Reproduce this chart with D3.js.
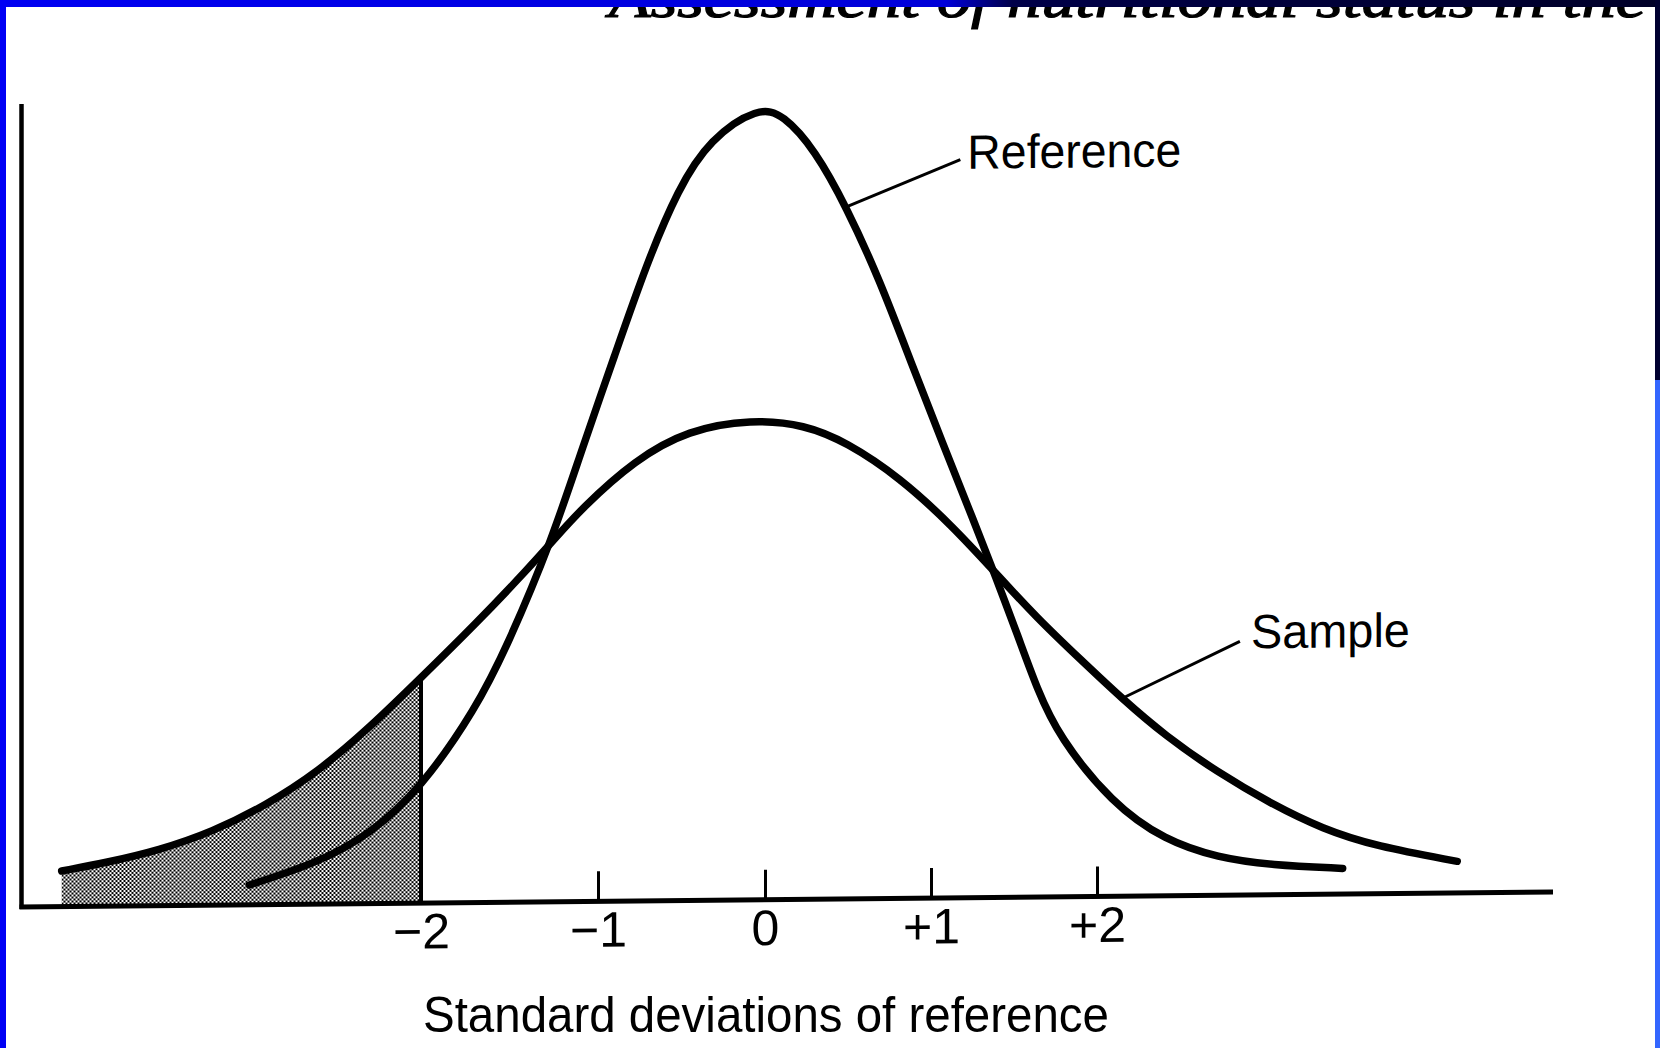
<!DOCTYPE html>
<html>
<head>
<meta charset="utf-8">
<script src="https://cdn.jsdelivr.net/npm/d3@7"></script>
<style>
body { margin: 0; background: #fff; }
svg { display: block; }
text { font-family: "Liberation Sans", Arial, Helvetica, sans-serif; fill: #000; }
</style>
</head>
<body>
<svg width="1660" height="1048"></svg>
<script>
// ticks, in standard deviations of the reference
var tickValues = [-2, -1, 0, 1, 2];
var tickLabels = ["\u22122", "\u22121", "0", "+1", "+2"];

// reference curve (x: SD of reference, y: relative frequency)
var refX = [-2.97, -2.58, -2.29, -2.0, -1.69, -1.51, -1.26, -1.09, -0.90, -0.71, -0.52, -0.33, -0.04, 0.11, 0.30, 0.49,
	0.69, 0.88, 1.07, 1.26, 1.39, 1.52, 1.64, 1.77, 2.09, 2.41, 2.73, 3.05, 3.48];
var refY = [0.010, 0.021, 0.035, 0.058, 0.098, 0.130, 0.183, 0.229, 0.276, 0.322, 0.360, 0.385, 0.401, 0.397, 0.379, 0.350,
	0.313, 0.271, 0.230, 0.190, 0.162, 0.133, 0.105, 0.081, 0.047, 0.028, 0.019, 0.015, 0.013];

// sample curve
var sampleX = [-4.03, -3.78, -3.48, -3.18, -2.88, -2.58, -2.29, -2.0, -1.69, -1.39, -1.26, -1.09, -0.78, -0.46, -0.08, 0.24,
	0.49, 0.81, 1.13, 1.39, 1.64, 1.90, 2.15, 2.41, 2.73, 3.05, 3.36, 3.68, 4.17];
var sampleY = [0.018, 0.022, 0.028, 0.037, 0.050, 0.067, 0.089, 0.114, 0.141, 0.169, 0.182, 0.199, 0.223, 0.238, 0.243, 0.240,
	0.231, 0.213, 0.188, 0.164, 0.141, 0.120, 0.100, 0.081, 0.062, 0.046, 0.033, 0.024, 0.016];

var cutoff = -2;
var seriesNames = ["Reference", "Sample"];
var xTitle = "Standard deviations of reference";
var pageTitle = "Assessment of nutritional status in the";

var svg = d3.select("svg"),
	origin = {x: 21.5, y: 907},
	skew = -0.56;   // the scanned figure leans a little

var x = d3.scaleLinear()
	.domain(tickValues)
	.range([421, 598, 765, 931, 1097].map(function(v){ return v - origin.x; }));
var y = d3.scaleLinear().domain([0, 0.4]).range([0, -791]);

var ref = refX.map(function(d, i){ return {x: d, y: refY[i]}; });
var sample = sampleX.map(function(d, i){ return {x: d, y: sampleY[i]}; });

var defs = svg.append("defs");
var pat = defs.append("pattern")
	.attr("id", "dots")
	.attr("width", 4).attr("height", 4)
	.attr("patternUnits", "userSpaceOnUse");
pat.append("rect").attr("width", 4).attr("height", 4).attr("fill", "#fff");
pat.append("rect").attr("width", 2).attr("height", 2).attr("fill", "#000");
pat.append("rect").attr("x", 2).attr("y", 2).attr("width", 2).attr("height", 2).attr("fill", "#000");

var grad = defs.append("linearGradient").attr("id", "topbar");
grad.append("stop").attr("offset", "0%").attr("stop-color", "#0000f2");
grad.append("stop").attr("offset", "57%").attr("stop-color", "#0000d8");
grad.append("stop").attr("offset", "61%").attr("stop-color", "#000048");
grad.append("stop").attr("offset", "100%").attr("stop-color", "#000028");

// page heading, cut off by the top of the slide as in the scan
svg.append("text")
	.attr("x", 609)
	.attr("y", 17)
	.attr("textLength", 1037)
	.attr("lengthAdjust", "spacingAndGlyphs")
	.style("font-family", "'Liberation Serif', 'DejaVu Serif', serif")
	.style("font-style", "italic")
	.style("font-size", "56px")
	.style("stroke", "#000")
	.style("stroke-width", 1.2)
	.text(pageTitle);

var g = svg.append("g")
	.attr("transform", "translate(" + origin.x + "," + origin.y + ") skewY(" + skew + ")");

// shaded tail below the cutoff
var area = d3.area()
	.x(function(d){ return x(d.x); })
	.y0(0)
	.y1(function(d){ return y(d.y); })
	.curve(d3.curveBasis);

g.append("path")
	.datum(sample.filter(function(d){ return d.x <= cutoff; }))
	.attr("d", area)
	.attr("fill", "url(#dots)");

var cutY = sampleY[sampleX.indexOf(cutoff)];
g.append("line")
	.attr("x1", x(cutoff)).attr("x2", x(cutoff))
	.attr("y1", 0).attr("y2", y(cutY))
	.attr("stroke", "#000")
	.attr("stroke-width", 4);

// axes
g.append("line")
	.attr("x1", 0).attr("x2", 0)
	.attr("y1", 2).attr("y2", -803)
	.attr("stroke", "#000")
	.attr("stroke-width", 4.5);

g.append("line")
	.attr("x1", -2).attr("x2", 1531.5)
	.attr("y1", 0).attr("y2", 0)
	.attr("stroke", "#000")
	.attr("stroke-width", 5);

var axis = g.append("g")
	.call(d3.axisBottom(x)
		.tickValues(tickValues)
		.tickFormat(function(d, i){ return tickLabels[i]; })
		.tickSizeInner(-30)
		.tickSizeOuter(0)
		.tickPadding(10));
axis.select(".domain").remove();
axis.selectAll(".tick line")
	.attr("stroke", "#000")
	.attr("stroke-width", 3)
	.style("display", function(d){ return d === cutoff ? "none" : null; });
axis.selectAll(".tick text")
	.style("font-family", "'Liberation Sans', Arial, sans-serif")
	.style("font-size", "50px")
	.attr("fill", "#000");

// curves
var line = d3.line()
	.x(function(d){ return x(d.x); })
	.y(function(d){ return y(d.y); })
	.curve(d3.curveBasis);

g.selectAll(".curve")
	.data([ref, sample])
	.enter().append("path")
	.attr("class", "curve")
	.attr("d", line)
	.attr("fill", "none")
	.attr("stroke", "#000")
	.attr("stroke-width", 7.5)
	.attr("stroke-linecap", "round");

// leaders and names
var notes = [
	{name: seriesNames[0], data: ref, at: 0.49, lx: 114, ly: -46, tx: 121, ty: -37, len: 214},
	{name: seriesNames[1], data: sample, at: 2.15, lx: 118, ly: -56, tx: 129, ty: -49, len: 159}
];

notes.forEach(function(n){
	var p = n.data.filter(function(d){ return d.x === n.at; })[0];
	var px = x(p.x), py = y(p.y);
	g.append("line")
		.attr("x1", px).attr("y1", py)
		.attr("x2", px + n.lx).attr("y2", py + n.ly)
		.attr("stroke", "#000")
		.attr("stroke-width", 3);
	g.append("text")
		.attr("x", px + n.tx)
		.attr("y", py + n.ty)
		.attr("textLength", n.len)
		.attr("lengthAdjust", "spacingAndGlyphs")
		.style("font-size", "48px")
		.text(n.name);
});

svg.append("text")
	.attr("x", 423)
	.attr("y", 1032)
	.attr("textLength", 686)
	.attr("lengthAdjust", "spacingAndGlyphs")
	.style("font-size", "50px")
	.text(xTitle);

// slide frame
svg.append("rect").attr("x", 0).attr("y", 0).attr("width", 1660).attr("height", 7).attr("fill", "url(#topbar)");
svg.append("rect").attr("x", 0).attr("y", 0).attr("width", 6).attr("height", 1048).attr("fill", "#0000f5");
svg.append("rect").attr("x", 1655).attr("y", 0).attr("width", 5).attr("height", 380).attr("fill", "#000030");
svg.append("rect").attr("x", 1655).attr("y", 380).attr("width", 5).attr("height", 668).attr("fill", "#3366ff");
</script>
</body>
</html>
